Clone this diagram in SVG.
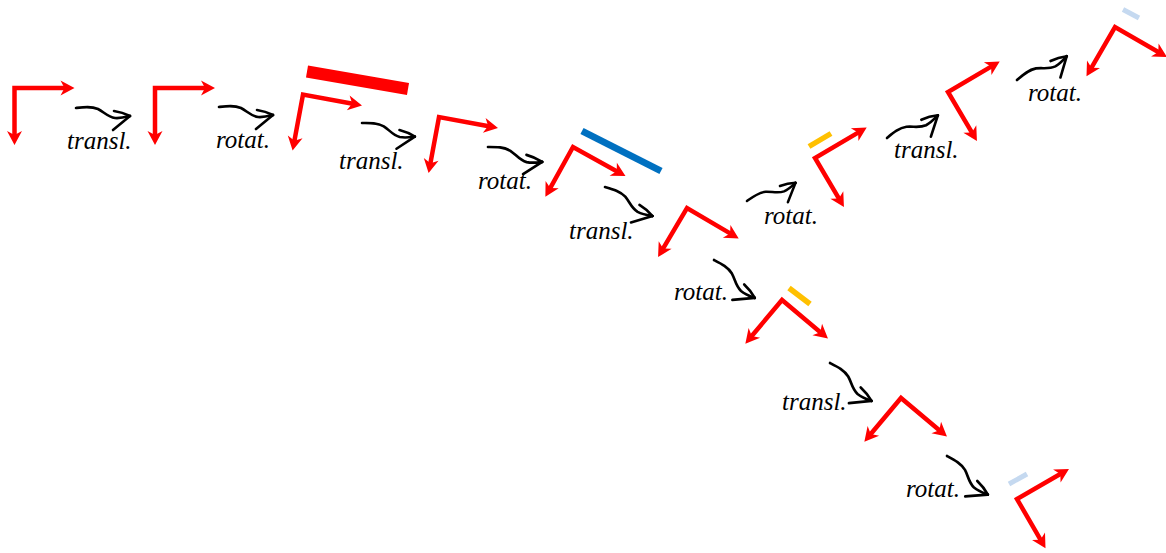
<svg xmlns="http://www.w3.org/2000/svg" xmlns:xlink="http://www.w3.org/1999/xlink" width="1166" height="553" viewBox="0 0 1166 553">
  <style>
    .axis { fill: none; stroke: #ff0000; stroke-width: 4.5; stroke-linejoin: miter; }
    .head { fill: #ff0000; }
    .bar { fill: none; stroke-linecap: butt; }
    .wave { fill: none; stroke: #000; stroke-width: 2.6; stroke-linecap: round; stroke-linejoin: round; }
    text { font-family: 'Liberation Serif', 'DejaVu Serif', serif; font-style: italic; font-size: 25px; fill: #000; }
  </style>
  <defs>
    <!-- notched arrowhead, tip at the origin pointing along +x -->
    <path id="head" class="head" d="M0,0 L-14,-7.5 L-10,0 L-14,7.5 Z"/>
    <!-- coordinate frame: x axis along +x, y axis along +y, corner at the origin -->
    <g id="frame">
      <path class="axis" d="M52,0 L0,0 L0,49"/>
      <use xlink:href="#head" transform="translate(60,0)"/>
      <use xlink:href="#head" transform="translate(0,57) rotate(90)"/>
    </g>
    <!-- wavy "leads to" arrow, tail at the origin -->
    <g id="leadsto">
      <path class="wave" d="M0,0 C8,-1 15,-2 22,1 C28,4 32,9 39,10 C45,10.5 50,9 54,8"/>
      <path class="wave" d="M38,3 C45,4 50,6 54,8"/>
      <path class="wave" d="M54,8 L37,22"/>
    </g>
  </defs>

  <!-- main chain of frames -->
  <g id="frame1"><use xlink:href="#frame" transform="translate(14.5,88)"/></g>
  <g id="frame2"><use xlink:href="#frame" transform="translate(155,88)"/></g>
  <g id="frame3">
    <line class="bar" x1="307" y1="71.5" x2="408" y2="89" stroke="#ff0000" stroke-width="12"/>
    <use xlink:href="#frame" transform="translate(303,94.5) rotate(10.5)"/>
  </g>
  <g id="frame4"><use xlink:href="#frame" transform="translate(439,117) rotate(10.5)"/></g>
  <g id="frame5">
    <line class="bar" x1="582" y1="131" x2="661" y2="171" stroke="#0070c0" stroke-width="7"/>
    <use xlink:href="#frame" transform="translate(573,147) rotate(29)"/>
  </g>
  <g id="frame6"><use xlink:href="#frame" transform="translate(687,208) rotate(30.5)"/></g>

  <!-- upper branch -->
  <g id="frame7-upper">
    <line class="bar" x1="809" y1="146.5" x2="831" y2="133.5" stroke="#ffc000" stroke-width="5.5"/>
    <use xlink:href="#frame" transform="translate(815,158) rotate(-30.5)"/>
  </g>
  <g id="frame8-upper"><use xlink:href="#frame" transform="translate(948,92) rotate(-30.5)"/></g>
  <g id="frame9-upper">
    <line class="bar" x1="1123" y1="9.5" x2="1139" y2="18" stroke="#c5d9f0" stroke-width="5"/>
    <use xlink:href="#frame" transform="translate(1115,27) rotate(30)"/>
  </g>

  <!-- lower branch -->
  <g id="frame7-lower">
    <line class="bar" x1="789" y1="288" x2="810" y2="304" stroke="#ffc000" stroke-width="5.5"/>
    <use xlink:href="#frame" transform="translate(782,300) rotate(40)"/>
  </g>
  <g id="frame8-lower"><use xlink:href="#frame" transform="translate(901,398) rotate(40)"/></g>
  <g id="frame9-lower">
    <line class="bar" x1="1009" y1="484" x2="1027" y2="474" stroke="#c5d9f0" stroke-width="5"/>
    <use xlink:href="#frame" transform="translate(1017,499) rotate(-30)"/>
  </g>

  <!-- transformation steps -->
  <g id="connectors">
    <use xlink:href="#leadsto" transform="translate(76,108)"/>
    <text x="67" y="149" font-family="Liberation Serif, serif" font-style="italic">transl.</text>
    <use xlink:href="#leadsto" transform="translate(219,107)"/>
    <text x="216" y="148" font-family="Liberation Serif, serif" font-style="italic">rotat.</text>
    <use xlink:href="#leadsto" transform="translate(362,123) rotate(6)"/>
    <text x="339" y="169" font-family="Liberation Serif, serif" font-style="italic">transl.</text>
    <use xlink:href="#leadsto" transform="translate(488,147) rotate(7) scale(1.03)"/>
    <text x="478" y="189" font-family="Liberation Serif, serif" font-style="italic">rotat.</text>
    <use xlink:href="#leadsto" transform="translate(605,187) rotate(23) scale(1.02)"/>
    <text x="569" y="239" font-family="Liberation Serif, serif" font-style="italic">transl.</text>
    <use xlink:href="#leadsto" transform="translate(714,260) rotate(34.5) scale(1.02)"/>
    <text x="674" y="300" font-family="Liberation Serif, serif" font-style="italic">rotat.</text>
    <use xlink:href="#leadsto" transform="translate(830,363) rotate(34) scale(1.03)"/>
    <text x="782" y="410" font-family="Liberation Serif, serif" font-style="italic">transl.</text>
    <use xlink:href="#leadsto" transform="translate(947,456) rotate(35) scale(1.03)"/>
    <text x="906" y="497" font-family="Liberation Serif, serif" font-style="italic">rotat.</text>
    <use xlink:href="#leadsto" transform="translate(747,201) rotate(-29) scale(0.95)"/>
    <text x="764" y="224" font-family="Liberation Serif, serif" font-style="italic">rotat.</text>
    <use xlink:href="#leadsto" transform="translate(887,138) rotate(-32.5) scale(1.02)"/>
    <text x="894" y="158" font-family="Liberation Serif, serif" font-style="italic">transl.</text>
    <use xlink:href="#leadsto" transform="translate(1017,80) rotate(-34) scale(1.01)"/>
    <text x="1028" y="101" font-family="Liberation Serif, serif" font-style="italic">rotat.</text>
  </g>
</svg>
